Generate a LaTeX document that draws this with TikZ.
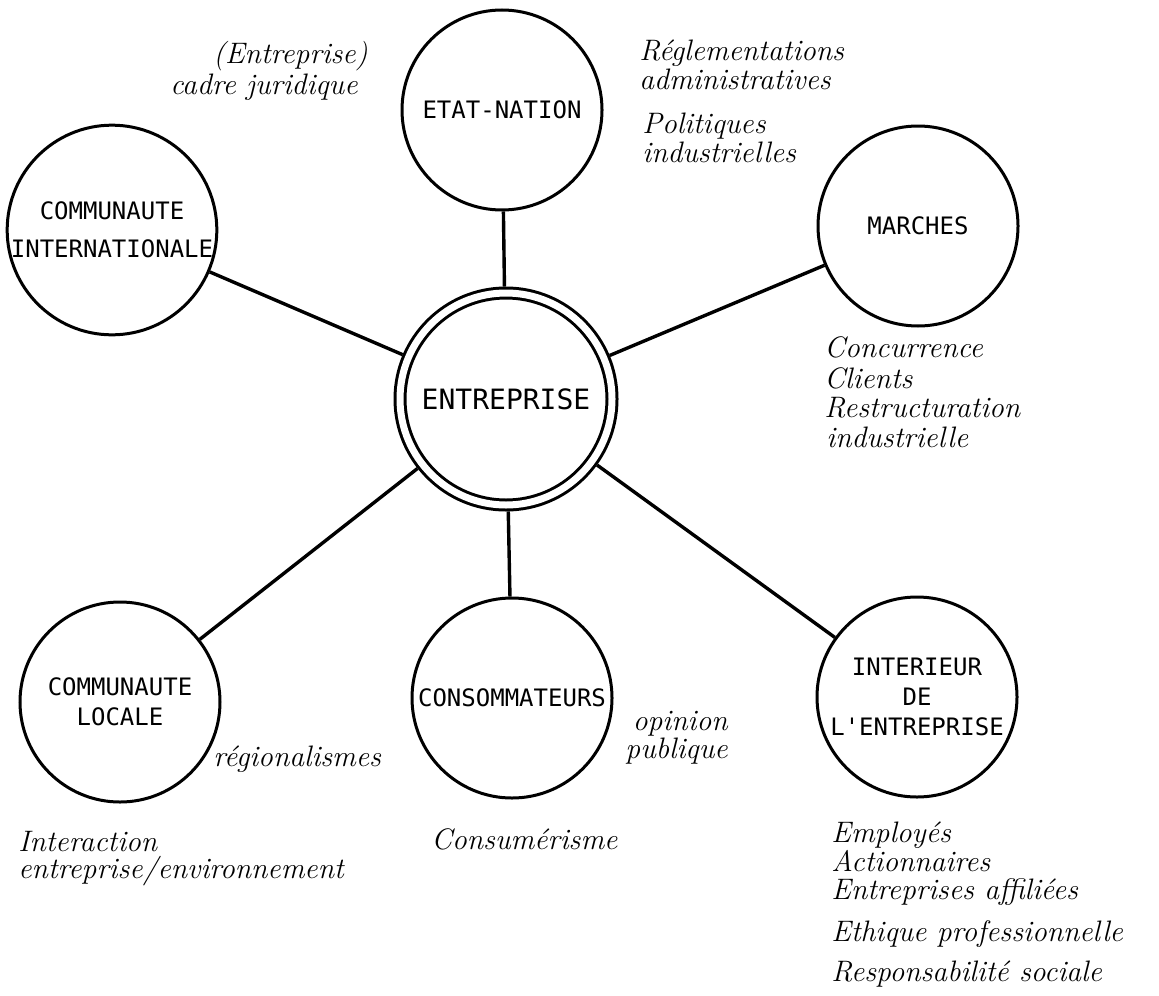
\documentclass[tikz,border=0pt]{standalone}
\usepackage{fontspec}
\newfontfamily\boxfont{DejaVu Sans Mono}
\tikzstyle{sphere} = [circle, draw, line width=1.5pt, minimum size=100pt, inner sep=0pt, align=center, font=\boxfont\fontsize{12}{15}\selectfont]
\tikzstyle{link} = [line width=1.7pt]
\tikzstyle{note} = [inner sep=0pt, font=\itshape\fontsize{14.8}{16}\selectfont]

\begin{document}
\begin{tikzpicture}
    [x=0.5pt, y=-0.5pt]
  \useasboundingbox (0,0) rectangle (1159,995);
  % circles
  \node[sphere, double, double distance=3.5pt, minimum size=106pt, outer sep=3.25pt,
        font=\boxfont\fontsize{14}{16}\selectfont] (ent) at (506,399) {ENTREPRISE};
  \node[sphere] (etat) at (502,110) {ETAT-NATION};
  \node[sphere] (intl) at (112,230) {COMMUNAUTE\\[4pt]INTERNATIONALE};
  \node[sphere] (marches) at (918,226) {MARCHES};
  \node[sphere] (locale) at (120,702) {COMMUNAUTE\\LOCALE};
  \node[sphere] (conso) at (512,698) {CONSOMMATEURS};
  \node[sphere] (interieur) at (917,697) {INTERIEUR\\DE\\L\textquotesingle ENTREPRISE};
  % links
  \draw[link] (ent) -- (etat);
  \draw[link] (ent) -- (intl);
  \draw[link] (ent) -- (marches);
  \draw[link] (ent) -- (locale);
  \draw[link] (ent) -- (conso);
  \draw[link] (ent) -- (interieur);
  % notes
  \node[note, anchor=base east] (cadre1) at (368,64) {(Entreprise)};
  \node[note, anchor=base east] (cadre2) at (358,95) {cadre juridique};
  \node[note, anchor=base west] (regl1) at (639,61) {Réglementations};
  \node[note, anchor=base west] (regl2) at (639,90) {administratives};
  \node[note, anchor=base west] (polit1) at (642,133) {Politiques};
  \node[note, anchor=base west] (polit2) at (642,162) {industrielles};
  \node[note, anchor=base west] (conc) at (824,357) {Concurrence};
  \node[note, anchor=base west] (clients) at (824,388) {Clients};
  \node[note, anchor=base west] (restr1) at (824,417) {Restructuration};
  \node[note, anchor=base west] (restr2) at (826,447) {industrielle};
  \node[note, anchor=base west] (region) at (213,766) {régionalismes};
  \node[note, anchor=base east] (opinion1) at (728,730) {opinion};
  \node[note, anchor=base east] (opinion2) at (728,758) {publique};
  \node[note, anchor=base west] (inter1) at (18,851) {Interaction};
  \node[note, anchor=base west] (inter2) at (18,878) {entreprise/environnement};
  \node[note, anchor=base west] (consum) at (431,849) {Consumérisme};
  \node[note, anchor=base west] (employes) at (831,842) {Employés};
  \node[note, anchor=base west] (action) at (831,871) {Actionnaires};
  \node[note, anchor=base west] (affil) at (831,899) {Entreprises affiliées};
  \node[note, anchor=base west] (ethique) at (831,941) {Ethique professionnelle};
  \node[note, anchor=base west] (respons) at (831,981) {Responsabilité sociale};
\end{tikzpicture}
\end{document}
